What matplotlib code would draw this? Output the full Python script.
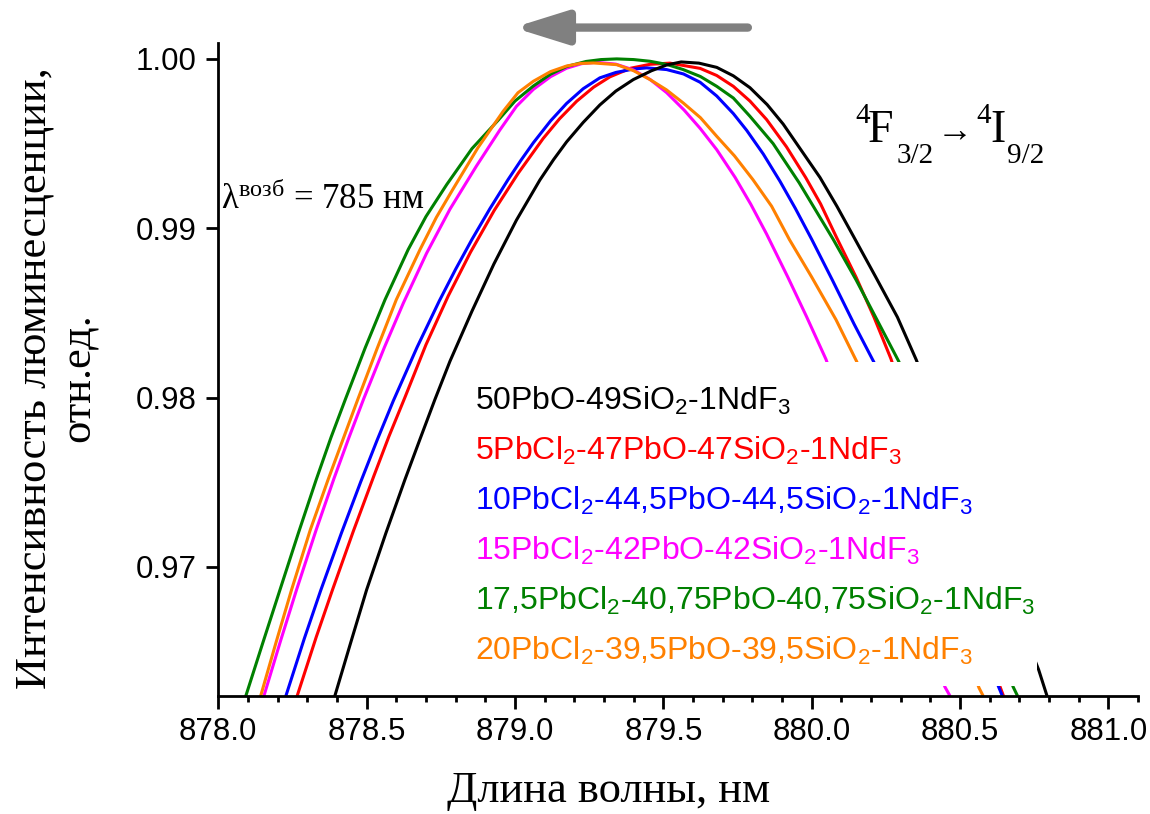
import matplotlib
matplotlib.use('Agg')
import matplotlib.pyplot as plt
from matplotlib.patches import Rectangle
from matplotlib.ticker import MultipleLocator, FormatStrFormatter

# curve data (wavelength, nm / relative intensity)
x_black = [878.393, 878.445, 878.500, 878.565, 878.629, 878.680, 878.730, 878.781, 878.855,
           878.929, 879.005, 879.084, 879.130, 879.174, 879.230, 879.286, 879.340, 879.399,
           879.460, 879.511, 879.560, 879.620, 879.680, 879.736, 879.792, 879.850, 879.904,
           879.965, 880.028, 880.085, 880.140, 880.215, 880.289, 880.352, 880.765, 880.792]
y_black = [0.96239, 0.96545, 0.96865, 0.97200, 0.97515, 0.97755, 0.97988, 0.98215, 0.98510,
           0.98789, 0.99048, 0.99285, 0.99405, 0.99510, 0.99625, 0.99728, 0.99810, 0.99878,
           0.99930, 0.99964, 0.99982, 0.99975, 0.99950, 0.99900, 0.99830, 0.99730, 0.99615,
           0.99460, 0.99300, 0.99130, 0.98955, 0.98715, 0.98475, 0.98225, 0.96393, 0.96245]

x_red = [878.266, 878.330, 878.385, 878.455, 878.525, 878.575, 878.630, 878.700, 878.775,
         878.850, 878.930, 879.011, 879.095, 879.150, 879.208, 879.265, 879.320, 879.390,
         879.455, 879.522, 879.624, 879.680, 879.736, 879.792, 879.848, 879.915, 879.980,
         880.030, 880.084, 880.150, 880.210, 880.267, 880.635, 880.645]
y_red = [0.96239, 0.96585, 0.96865, 0.97210, 0.97540, 0.97770, 0.98005, 0.98312, 0.98600,
         0.98858, 0.99105, 0.99325, 0.99530, 0.99646, 0.99750, 0.99833, 0.99894, 0.99945,
         0.99968, 0.99975, 0.99944, 0.99902, 0.99838, 0.99751, 0.99642, 0.99481, 0.99299,
         0.99144, 0.98945, 0.98710, 0.98475, 0.98230, 0.96292, 0.96245]

x_blue = [878.228, 878.290, 878.345, 878.415, 878.480, 878.535, 878.590, 878.670, 878.745,
          878.800, 878.855, 878.915, 878.977, 879.020, 879.062, 879.120, 879.174, 879.230,
          879.286, 879.340, 879.399, 879.444, 879.511, 879.568, 879.624, 879.680, 879.736,
          879.781, 879.837, 879.893, 879.945, 880.000, 880.070, 880.143, 880.211, 880.630,
          880.641]
y_blue = [0.96239, 0.96577, 0.96860, 0.97200, 0.97502, 0.97747, 0.97981, 0.98297, 0.98571,
          0.98758, 0.98934, 0.99114, 0.99288, 0.99401, 0.99505, 0.99634, 0.99737, 0.99824,
          0.99888, 0.99920, 0.99940, 0.99947, 0.99937, 0.99911, 0.99862, 0.99781, 0.99677,
          0.99578, 0.99438, 0.99278, 0.99117, 0.98935, 0.98693, 0.98434, 0.98205, 0.96292,
          0.96245]

x_magenta = [878.154, 878.210, 878.264, 878.330, 878.390, 878.440, 878.490, 878.560, 878.624,
             878.702, 878.781, 878.870, 878.949, 879.005, 879.062, 879.120, 879.174, 879.225,
             879.275, 879.340, 879.399, 879.455, 879.511, 879.570, 879.624, 879.680, 879.742,
             879.795, 879.848, 879.920, 879.983, 880.048, 880.449, 880.464]
y_magenta = [0.96239, 0.96564, 0.96866, 0.97219, 0.97522, 0.97762, 0.97992, 0.98297, 0.98559,
             0.98852, 0.99113, 0.99367, 0.99580, 0.99720, 0.99820, 0.99895, 0.99945, 0.99972,
             0.99980, 0.99969, 0.99935, 0.99879, 0.99801, 0.99698, 0.99590, 0.99464, 0.99300,
             0.99141, 0.98966, 0.98710, 0.98477, 0.98227, 0.96292, 0.96245]

x_green = [878.093, 878.150, 878.208, 878.270, 878.330, 878.380, 878.428, 878.495, 878.562,
           878.640, 878.700, 878.770, 878.855, 878.945, 879.000, 879.062, 879.120, 879.174,
           879.240, 879.290, 879.343, 879.400, 879.455, 879.510, 879.567, 879.625, 879.680,
           879.736, 879.792, 879.870, 879.958, 880.073, 880.150, 880.220, 880.294, 880.679,
           880.692]
y_green = [0.96239, 0.96551, 0.96865, 0.97200, 0.97515, 0.97765, 0.97988, 0.98293, 0.98578,
           0.98874, 0.99069, 0.99258, 0.99470, 0.99641, 0.99751, 0.99840, 0.99910, 0.99955,
           0.99985, 0.99996, 1.00000, 0.99996, 0.99986, 0.99968, 0.99937, 0.99896, 0.99838,
           0.99769, 0.99661, 0.99500, 0.99268, 0.98933, 0.98694, 0.98460, 0.98212, 0.96292,
           0.96245]

x_orange = [878.143, 878.195, 878.247, 878.310, 878.370, 878.470, 878.535, 878.600, 878.680,
            878.735, 878.790, 878.875, 878.960, 879.010, 879.062, 879.120, 879.174, 879.220,
            879.264, 879.343, 879.400, 879.455, 879.510, 879.567, 879.625, 879.680, 879.740,
            879.802, 879.865, 879.925, 880.000, 880.082, 880.152, 880.564, 880.576]
y_orange = [0.96239, 0.96556, 0.96865, 0.97218, 0.97515, 0.97988, 0.98288, 0.98578, 0.98874,
            0.99064, 0.99228, 0.99475, 0.99690, 0.99800, 0.99868, 0.99925, 0.99958, 0.99973,
            0.99976, 0.99966, 0.99930, 0.99878, 0.99818, 0.99740, 0.99653, 0.99543, 0.99427,
            0.99287, 0.99130, 0.98933, 0.98712, 0.98460, 0.98212, 0.96286, 0.96245]

labels = [
    r'50PbO-49SiO$\mathregular{_2}$-1NdF$\mathregular{_3}$',
    r'5PbCl$\mathregular{_2}$-47PbO-47SiO$\mathregular{_2}$-1NdF$\mathregular{_3}$',
    r'10PbCl$\mathregular{_2}$-44,5PbO-44,5SiO$\mathregular{_2}$-1NdF$\mathregular{_3}$',
    r'15PbCl$\mathregular{_2}$-42PbO-42SiO$\mathregular{_2}$-1NdF$\mathregular{_3}$',
    r'17,5PbCl$\mathregular{_2}$-40,75PbO-40,75SiO$\mathregular{_2}$-1NdF$\mathregular{_3}$',
    r'20PbCl$\mathregular{_2}$-39,5PbO-39,5SiO$\mathregular{_2}$-1NdF$\mathregular{_3}$',
]
colors = ['black', '#FF0000', '#0000FF', '#FF00FF', '#008000', '#FF8000']
# order in which the curves are stacked (last on top)
draw_order = [1, 2, 3, 4, 5, 0]

SANS = 'Liberation Sans'
SERIF = 'Liberation Serif'
W, H = 1150, 814


def main():
    plt.rcParams['font.family'] = [SANS, 'DejaVu Sans']

    fig = plt.figure(figsize=(W / 100, H / 100), dpi=100)
    ax = fig.add_axes([0.1898, 0.1450, 0.7998, 0.8022])

    xs = [x_black, x_red, x_blue, x_magenta, x_green, x_orange]
    ys = [y_black, y_red, y_blue, y_magenta, y_green, y_orange]
    for k in draw_order:
        ax.plot(xs[k], ys[k], color=colors[k], lw=2.2, zorder=2, solid_joinstyle='round')

    # white box behind the composition list hides the curve tails
    ax.add_patch(Rectangle((878.8315, 0.96294), 1.9281, 0.01916,
                           facecolor='white', edgecolor='none', zorder=3))
    for i, (lab, c) in enumerate(zip(labels, colors)):
        ax.text(0.2791, 0.4380 - i * 0.07657, lab, color=c, fontsize=23,
                family=SANS, transform=ax.transAxes, va='baseline', zorder=4)

    ax.set_xlim(878.0, 881.1)
    ax.set_ylim(0.96238, 1.00094)
    ax.xaxis.set_major_locator(MultipleLocator(0.5))
    ax.xaxis.set_minor_locator(MultipleLocator(0.1))
    ax.yaxis.set_major_locator(MultipleLocator(0.01))
    ax.xaxis.set_major_formatter(FormatStrFormatter('%.1f'))
    ax.yaxis.set_major_formatter(FormatStrFormatter('%.2f'))

    for side in ['top', 'right']:
        ax.spines[side].set_visible(False)
    for side in ['left', 'bottom']:
        ax.spines[side].set_linewidth(2.0)
    ax.tick_params(which='major', direction='out', length=9, width=2, labelsize=22.5, pad=6.5)
    ax.tick_params(which='minor', direction='out', length=4.5, width=2)

    ax.set_xlabel('Длина волны, нм', family=SERIF, fontsize=32)
    ax.xaxis.set_label_coords(0.4248, -0.115)
    ax.set_ylabel('Интенсивность люминесценции,\nотн.ед.', family=SERIF, fontsize=32,
                  linespacing=1.15)
    ax.yaxis.set_label_coords(-0.130, 0.487)

    ax.text(878.01, 0.9917, r'$\mathregular{λ^{возб}}$ = 785 нм', family=SERIF,
            fontsize=25, va='center', ha='left', zorder=5)

    # 4F3/2 -> 4I9/2 transition label, built piece by piece (pixel positions)
    pieces = [('4', 855, 123, 21), ('F', 868, 142, 33), ('3/2', 897, 163, 21),
              ('→', 937, 142, 26), ('4', 976, 123, 21), ('I', 990, 142, 33),
              ('9/2', 1007, 163, 21)]
    for s, px, py, size in pieces:
        fig.text(px / W, 1 - py / H, s, family=[SERIF, 'DejaVu Serif'], fontsize=size,
                 va='baseline', ha='left')

    # shift direction arrow above the plot
    ax.annotate('', xy=(878.995, 1.00185), xytext=(879.785, 1.00185),
                annotation_clip=False,
                arrowprops=dict(arrowstyle='-|>,head_length=3.2,head_width=1.0',
                                mutation_scale=10, lw=6, color='#808080',
                                shrinkA=0, shrinkB=0))

    fig.savefig('out.png', dpi=100)


if __name__ == '__main__':
    main()
